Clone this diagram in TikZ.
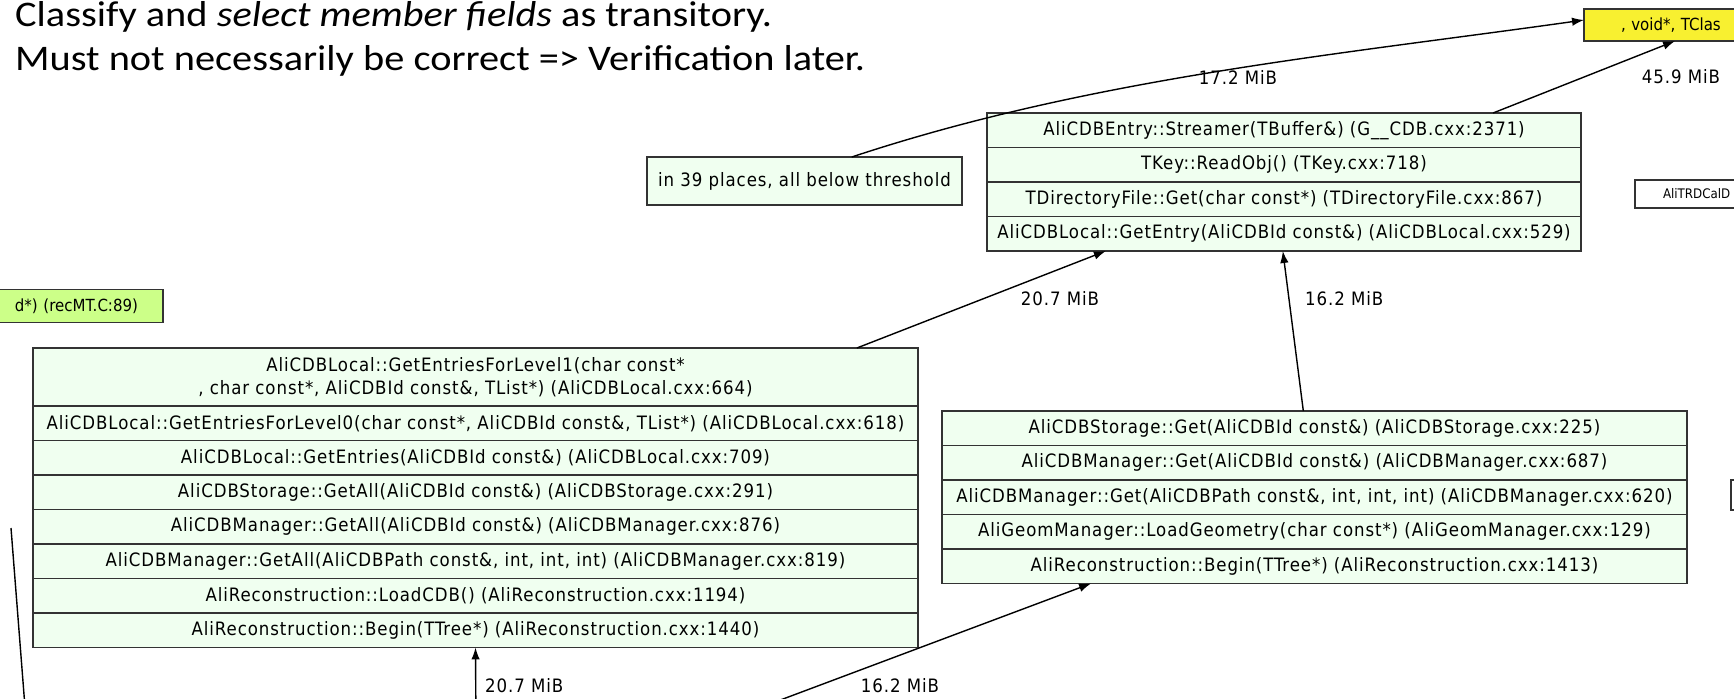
\documentclass[tikz,border=0pt]{standalone}
\usepackage{fontspec}
\newfontfamily\slidefont[FakeStretch=1.12]{Carlito}
\newfontfamily\dotfont[LetterSpace=5]{DejaVu Sans Condensed}
\newfontfamily\cutfont{DejaVu Sans Condensed}
\usetikzlibrary{arrows.meta,calc,positioning}
\definecolor{boxfill}{HTML}{F0FFF0}
\definecolor{rootfill}{HTML}{CCFF88}
\definecolor{hotfill}{HTML}{F8F030}
\newcommand\dotsize{\dotfont\fontsize{10.5}{13}\selectfont}

\begin{document}
\begin{tikzpicture}[
  x=0.02cm, y=-0.02cm,
  every node/.style={font=\dotsize},
  frame/.style={draw=black!80,line width=0.9pt,fill=boxfill,
                inner sep=0pt,outer sep=0pt,minimum height=0.69cm},
  row/.style={frame,below=0pt of #1},
  lbl/.style={font=\dotsize},
  slide/.style={anchor=base west,font=\slidefont\fontsize{20.5}{24}\selectfont},
  link/.style={-{Latex[length=2.4mm,width=1.7mm]},line width=0.8pt}
]
\useasboundingbox (0,0) rectangle (1734,698);
\clip (0,0) rectangle (1734,698);

% slide text
\node[slide] (t1) at (9,26)
  {Classify and \textit{select member fields} as transitory.};
\node[slide] (t2) at (9,70)
  {Must not necessarily be correct => Verification later.};

% nodes cut by the border
\node[frame,fill=hotfill,anchor=west,minimum height=0.64cm,text width=6cm,
      align=left,inner xsep=0.74cm,font=\cutfont\fontsize{9.5}{11}\selectfont]
  (yel) at (1584,25) {, void*, TClas};
\node[frame,fill=white,anchor=west,minimum height=0.56cm,text width=4cm,
      align=left,inner xsep=0.56cm,font=\cutfont\fontsize{7.5}{9}\selectfont]
  (trd) at (1635,194) {AliTRDCalD};
\node[frame,fill=rootfill,anchor=east,minimum height=0.66cm,text width=8cm,
      align=right,inner xsep=0.5cm,font=\cutfont\fontsize{9.5}{11}\selectfont]
  (rec) at (163,306) {d*) (recMT.C:89)};
\node[frame,fill=white,anchor=north west,minimum width=3cm,minimum height=0.6cm]
  (cut) at (1731,480) {};
\node[frame,minimum width=6.3cm,minimum height=0.96cm] (few) at (804.5,181)
  {in 39 places, all below threshold};

% upper stack
\node[frame,anchor=north,minimum width=11.88cm] (T1) at (1284,113)
  {AliCDBEntry::Streamer(TBuffer\&) (G\_\_CDB.cxx:2371)};
\node[row=T1,minimum width=11.88cm] (T2) {TKey::ReadObj() (TKey.cxx:718)};
\node[row=T2,minimum width=11.88cm] (T3)
  {TDirectoryFile::Get(char const*) (TDirectoryFile.cxx:867)};
\node[row=T3,minimum width=11.88cm] (T4)
  {AliCDBLocal::GetEntry(AliCDBId const\&) (AliCDBLocal.cxx:529)};

% left stack
\node[frame,anchor=north,minimum width=17.7cm,minimum height=1.16cm,align=center]
  (L1) at (475.5,348)
  {AliCDBLocal::GetEntriesForLevel1(char const*\\
   , char const*, AliCDBId const\&, TList*) (AliCDBLocal.cxx:664)};
\node[row=L1,minimum width=17.7cm] (L2)
  {AliCDBLocal::GetEntriesForLevel0(char const*, AliCDBId const\&, TList*) (AliCDBLocal.cxx:618)};
\node[row=L2,minimum width=17.7cm] (L3)
  {AliCDBLocal::GetEntries(AliCDBId const\&) (AliCDBLocal.cxx:709)};
\node[row=L3,minimum width=17.7cm] (L4)
  {AliCDBStorage::GetAll(AliCDBId const\&) (AliCDBStorage.cxx:291)};
\node[row=L4,minimum width=17.7cm] (L5)
  {AliCDBManager::GetAll(AliCDBId const\&) (AliCDBManager.cxx:876)};
\node[row=L5,minimum width=17.7cm] (L6)
  {AliCDBManager::GetAll(AliCDBPath const\&, int, int, int) (AliCDBManager.cxx:819)};
\node[row=L6,minimum width=17.7cm] (L7)
  {AliReconstruction::LoadCDB() (AliReconstruction.cxx:1194)};
\node[row=L7,minimum width=17.7cm] (L8)
  {AliReconstruction::Begin(TTree*) (AliReconstruction.cxx:1440)};

% right stack
\node[frame,anchor=north,minimum width=14.9cm] (R1) at (1314.5,411)
  {AliCDBStorage::Get(AliCDBId const\&) (AliCDBStorage.cxx:225)};
\node[row=R1,minimum width=14.9cm] (R2)
  {AliCDBManager::Get(AliCDBId const\&) (AliCDBManager.cxx:687)};
\node[row=R2,minimum width=14.9cm] (R3)
  {AliCDBManager::Get(AliCDBPath const\&, int, int, int) (AliCDBManager.cxx:620)};
\node[row=R3,minimum width=14.9cm] (R4)
  {AliGeomManager::LoadGeometry(char const*) (AliGeomManager.cxx:129)};
\node[row=R4,minimum width=14.9cm] (R5)
  {AliReconstruction::Begin(TTree*) (AliReconstruction.cxx:1413)};

% edges
\coordinate (inL) at (476,730);
\coordinate (inR) at (727,720);
\coordinate (sideA) at (11,528);
\coordinate (sideB) at (26,720);

\draw[link] ($(few.north west)!0.65!(few.north east)$)
  .. controls (1090,78) and (1336,55) .. ($(yel.west)+(0,-5)$);
\node[lbl] at (1238,77) {17.2 MiB};
\draw[link] ($(T1.north west)!0.852!(T1.north east)$) -- ($(yel.south west)+(91,0)$);
\node[lbl] at (1681,77) {45.9 MiB};
\draw[link] ($(L1.north west)!0.931!(L1.north east)$)
  -- ($(T4.south west)!0.2!(T4.south east)$);
\node[lbl] at (1060,299) {20.7 MiB};
\draw[link] ($(R1.north west)!0.485!(R1.north east)$)
  -- ($(T4.south west)!0.498!(T4.south east)$);
\node[lbl,anchor=west] at (1299,299) {16.2 MiB};
\draw[link] (inL) -- (L8.south);
\node[lbl,anchor=west] at (479,686) {20.7 MiB};
\draw[link] (inR) -- ($(R5.south west)!0.2!(R5.south east)$);
\node[lbl] at (900,686) {16.2 MiB};
\draw[line width=0.8pt] (sideA) -- (sideB);
\end{tikzpicture}
\end{document}
